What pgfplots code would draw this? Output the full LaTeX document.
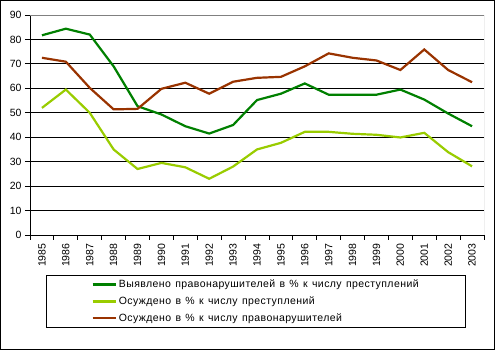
\documentclass[border=0pt]{standalone}
\usepackage{pgfplots}
\pgfplotsset{compat=1.18}
\usepackage{fontspec}
\setmainfont{Liberation Sans}
\newfontfamily\legfont[LetterSpace=4, WordSpace=1.3]{Liberation Sans}
\definecolor{cGreen}{HTML}{008000}
\definecolor{cLime}{HTML}{99CC00}
\definecolor{cBrown}{HTML}{993300}
\begin{document}
\begin{tikzpicture}
\useasboundingbox (0,0) rectangle (495pt,350pt);
\draw[black, line width=1pt] (0.5pt,0.5pt) rectangle (494.5pt,349.5pt);
\begin{axis}[
  at={(30pt,115pt)}, anchor=south west,
  width=454pt, height=220pt, scale only axis,
  xmin=-0.5, xmax=18.5, ymin=0, ymax=90,
  axis x line*=bottom, axis y line*=left,
  axis line style={black, line width=0.8pt, -},
  xtick={0,...,18},
  xticklabels={1985,1986,1987,1988,1989,1990,1991,1992,1993,1994,1995,1996,1997,1998,1999,2000,2001,2002,2003},
  x tick label style={rotate=90, anchor=east, font=\fontsize{10.5}{12}\selectfont},
  major x tick style={draw=none},
  minor xtick={-0.5,0.5,...,18.5},
  minor x tick style={black, line width=0.8pt},
  minor tick length=5pt,
  ytick={0,10,...,90},
  y tick label style={font=\fontsize{10.5}{12}\selectfont},
  y tick style={black, line width=0.8pt},
  major tick length=5pt,
  tick align=outside,
  ymajorgrids, grid style={black, line width=0.8pt},
  /pgf/number format/assume math mode=true,
  legend cell align=left,
  legend style={at={(0.498,-0.18)}, anchor=north, draw=black, line width=0.8pt,
    font=\legfont\fontsize{10.5}{12}\selectfont, inner xsep=45pt, inner ysep=3pt,
    row sep=3.5pt},
  legend image code/.code={\draw[#1, line width=2.4pt] (0pt,0pt) -- (23pt,0pt);},
]
\addplot[cGreen, line width=2.2pt] coordinates {(0,81.7)(1,84.4)(2,82)(3,69)(4,52.7)(5,49.3)(6,44.5)(7,41.5)(8,45)(9,55.2)(10,57.8)(11,62)(12,57.4)(13,57.4)(14,57.4)(15,59.5)(16,55.4)(17,49.7)(18,44.5)};
\addlegendentry{Выявлено правонарушителей в \% к числу преступлений}
\addplot[cLime, line width=2.2pt] coordinates {(0,52)(1,59.5)(2,50)(3,35)(4,27)(5,29.5)(6,27.7)(7,23)(8,28)(9,35)(10,37.7)(11,42.2)(12,42.2)(13,41.4)(14,41)(15,39.9)(16,41.8)(17,33.9)(18,28.1)};
\addlegendentry{Осуждено в \% к числу преступлений}
\addplot[cBrown, line width=2.2pt] coordinates {(0,72.5)(1,70.9)(2,60.2)(3,51.4)(4,51.6)(5,59.8)(6,62.3)(7,57.8)(8,62.7)(9,64.3)(10,64.7)(11,69)(12,74.3)(13,72.5)(14,71.4)(15,67.5)(16,75.9)(17,67.5)(18,62.5)};
\addlegendentry{Осуждено в \% к числу правонарушителей}
\draw[gray, line width=0.8pt] (rel axis cs:0,1) -- (rel axis cs:1,1) -- (rel axis cs:1,0);
\end{axis}
\end{tikzpicture}
\end{document}
